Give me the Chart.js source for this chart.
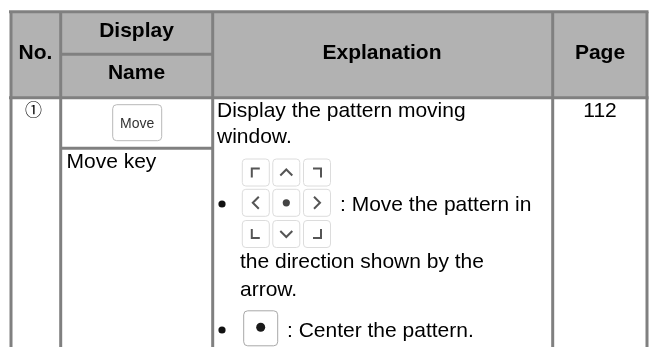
<!DOCTYPE html>
<html>
<head>
<meta charset="utf-8">
<title>Move key table</title>
<script src="https://cdn.jsdelivr.net/npm/chart.js@4/dist/chart.umd.min.js"></script>
<style>
  html, body { margin: 0; padding: 0; background: #fff; }
  canvas { display: block; filter: blur(0.4px); }
</style>
</head>
<body>
<canvas id="table" width="651" height="347"></canvas>
<script>
// table structure, in picture units
const colEdges = [11, 60.7, 212.7, 552.7, 647];
const rowEdges = [11.7, 54.3, 97.7, 148.3];
const bottomEdge = 347;

const headerTexts = [
  { text: 'No.', x: 35.5, y: 59 },
  { text: 'Display', x: 136.5, y: 37 },
  { text: 'Name', x: 136.5, y: 79 },
  { text: 'Explanation', x: 382, y: 59 },
  { text: 'Page', x: 600, y: 59 }
];
const bodyTexts = [
  { text: 'Display the pattern moving', x: 217, y: 117 },
  { text: 'window.', x: 217, y: 143 },
  { text: 'Move key', x: 66.5, y: 168 },
  { text: ': Move the pattern in', x: 340, y: 211 },
  { text: 'the direction shown by the', x: 240, y: 268 },
  { text: 'arrow.', x: 240, y: 296 },
  { text: ': Center the pattern.', x: 287, y: 337 }
];
const pageTexts = [{ text: '112', x: 600, y: 117 }];
const numberTexts = [{ text: '\u2460', x: 33.5, y: 116 }];

const bullets = [{ x: 222, y: 204 }, { x: 222, y: 330 }];

// small keys: centre of each one and what is drawn on it
const arrowKeys = [
  { x: 255.8, y: 172.5, glyph: 'tl' }, { x: 286.3, y: 172.5, glyph: 'up' }, { x: 317, y: 172.5, glyph: 'tr' },
  { x: 255.8, y: 202.8, glyph: 'left' }, { x: 286.3, y: 202.8, glyph: 'dot' }, { x: 317, y: 202.8, glyph: 'right' },
  { x: 255.8, y: 234, glyph: 'bl' }, { x: 286.3, y: 234, glyph: 'down' }, { x: 317, y: 234, glyph: 'br' }
];
const glyphs = {
  tl: [[-4, 5], [-4, -4], [4, -4]],
  tr: [[-4, -4], [4, -4], [4, 5]],
  bl: [[-4, -5], [-4, 4], [4, 4]],
  br: [[-4, 4], [4, 4], [4, -5]],
  up: [[-6, 3], [0, -3], [6, 3]],
  down: [[-6, -3], [0, 3], [6, -3]],
  left: [[3, -6], [-3, 0], [3, 6]],
  right: [[-3, -6], [3, 0], [-3, 6]]
};

const gridLines = [];
colEdges.forEach(function (x, i) {
  gridLines.push([{ x: x, y: rowEdges[0] }, { x: x, y: bottomEdge }]);
});
gridLines.push([{ x: colEdges[0] - 2, y: rowEdges[0] }, { x: colEdges[4] + 1.5, y: rowEdges[0] }]);
gridLines.push([{ x: colEdges[0] - 2, y: rowEdges[2] }, { x: colEdges[4] + 1.5, y: rowEdges[2] }]);
gridLines.push([{ x: colEdges[1], y: rowEdges[1] }, { x: colEdges[2], y: rowEdges[1] }]);
gridLines.push([{ x: colEdges[1], y: rowEdges[3] }, { x: colEdges[2], y: rowEdges[3] }]);

const datasets = [];
datasets.push({
  data: [{ x: colEdges[0], y: rowEdges[2] }, { x: colEdges[4], y: rowEdges[2] }],
  borderWidth: 0,
  pointRadius: 0,
  backgroundColor: '#b2b2b2',
  fill: { value: rowEdges[0] },
  order: 3
});
gridLines.forEach(function (line) {
  datasets.push({
    data: line,
    borderColor: '#808080',
    borderWidth: 3,
    pointRadius: 0,
    order: 2
  });
});
datasets.push({
  data: bullets,
  showLine: false,
  pointStyle: 'circle',
  pointRadius: 3.6,
  pointBackgroundColor: '#111',
  pointBorderWidth: 0,
  order: 1
});

function roundKey(ctx, cx, cy, w, h, r, color, lw) {
  ctx.beginPath();
  ctx.roundRect(cx - w / 2, cy - h / 2, w, h, r);
  ctx.fillStyle = '#fff';
  ctx.fill();
  ctx.strokeStyle = color;
  ctx.lineWidth = lw;
  ctx.stroke();
}

const tablePlugin = {
  id: 'tablePlugin',
  afterDatasetsDraw: function (chart) {
    const ctx = chart.ctx;
    const sx = chart.scales.x;
    const sy = chart.scales.y;

    function put(list, font, color, align) {
      ctx.font = font;
      ctx.fillStyle = color;
      ctx.textAlign = align;
      ctx.textBaseline = 'alphabetic';
      list.forEach(function (t) {
        ctx.fillText(t.text, sx.getPixelForValue(t.x), sy.getPixelForValue(t.y));
      });
    }

    ctx.save();
    put(headerTexts, 'bold 21px "Liberation Sans"', '#000', 'center');
    put(bodyTexts, '21px "Liberation Sans"', '#000', 'left');
    put(pageTexts, '21px "Liberation Sans"', '#000', 'center');
    put(numberTexts, '17px "Noto Sans CJK JP"', '#000', 'center');

    // Move key
    roundKey(ctx, sx.getPixelForValue(137.2), sy.getPixelForValue(122.7), 49, 36, 4, '#b8b8b8', 1);
    put([{ text: 'Move', x: 137.2, y: 127.5 }], '14px "Liberation Sans"', '#333', 'center');

    // arrow keys
    arrowKeys.forEach(function (k) {
      const px = sx.getPixelForValue(k.x);
      const py = sy.getPixelForValue(k.y);
      roundKey(ctx, px, py, 27, 27, 3.5, '#dcdcdc', 1);
      if (k.glyph === 'dot') {
        ctx.beginPath();
        ctx.arc(px, py, 3.6, 0, Math.PI * 2);
        ctx.fillStyle = '#444';
        ctx.fill();
      } else {
        ctx.beginPath();
        glyphs[k.glyph].forEach(function (p, i) {
          if (i === 0) ctx.moveTo(px + p[0], py + p[1]);
          else ctx.lineTo(px + p[0], py + p[1]);
        });
        ctx.strokeStyle = '#555';
        ctx.lineWidth = 2;
        ctx.stroke();
      }
    });

    // centre key
    const cx = sx.getPixelForValue(260.7);
    const cy = sy.getPixelForValue(328.3);
    roundKey(ctx, cx, cy, 34, 35, 4, '#a8a8a8', 1);
    ctx.beginPath();
    ctx.arc(cx, cy - 1, 4.5, 0, Math.PI * 2);
    ctx.fillStyle = '#1a1a1a';
    ctx.fill();
    ctx.restore();
  }
};

new Chart(document.getElementById('table'), {
  type: 'line',
  data: { datasets: datasets },
  options: {
    responsive: false,
    animation: false,
    layout: { padding: 0, autoPadding: false },
    clip: false,
    plugins: { legend: { display: false }, tooltip: { enabled: false }, title: { display: false } },
    scales: {
      x: { type: 'linear', display: false, min: 0, max: 651 },
      y: { type: 'linear', display: false, min: 0, max: 347, reverse: true }
    }
  },
  plugins: [tablePlugin]
});
</script>
</body>
</html>
